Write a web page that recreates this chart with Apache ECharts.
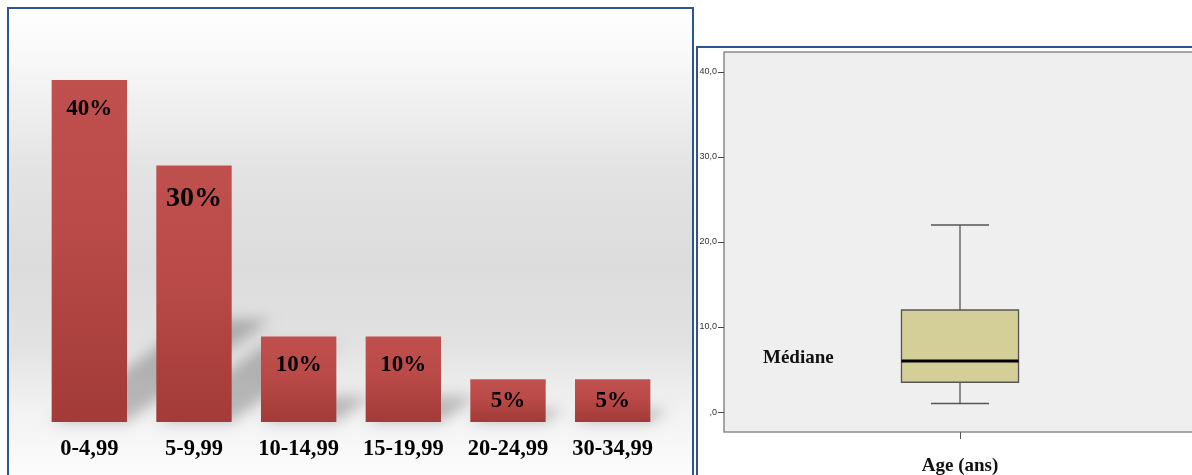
<!DOCTYPE html>
<html>
<head>
<meta charset="utf-8">
<script src="https://cdn.jsdelivr.net/npm/echarts@6/dist/echarts.min.js"></script>
<style>
  html, body { margin: 0; padding: 0; background: #ffffff; }
  #chart { width: 1192px; height: 475px; }
</style>
</head>
<body>
<div id="chart"></div>
<script>
// Age classes and share of patients (%)
const ageClasses = ['0-4,99', '5-9,99', '10-14,99', '15-19,99', '20-24,99', '30-34,99'];
const sharePct = [40, 30, 10, 10, 5, 5];

// Age distribution summary: min, Q1, median, Q3, max (years)
const ageBoxStats = [1, 3.5, 6, 12, 22];
const boxCategory = ['Age (ans)'];
const ageTickValues = [0, 10, 20, 30, 40];
const ageTickLabels = [',0', '10,0', '20,0', '30,0', '40,0'];

const SERIF = '"Liberation Serif", "Times New Roman", serif';
const SANS = '"Liberation Sans", Arial, sans-serif';
const BLUE = '#2f5496';
const BAR_FRAC = 0.72;

const chart = echarts.init(document.getElementById('chart'), null, { renderer: 'canvas' });

const barData = sharePct.map((v, i) => ({
  value: v,
  label: v === 30
    ? { fontSize: 28, distance: 19 }
    : (v <= 5 ? { distance: 10 } : { distance: v >= 40 ? 18 : 17 })
}));

chart.setOption({
  animation: false,
  graphic: [
    {
      type: 'rect', z: -10,
      shape: { x: 8, y: 8, width: 685, height: 520 },
      style: {
        stroke: BLUE, lineWidth: 2,
        fill: {
          type: 'linear', x: 0, y: 8, x2: 0, y2: 475, global: true,
          colorStops: [
            { offset: 0, color: '#ffffff' },
            { offset: 0.12, color: '#f7f7f7' },
            { offset: 0.35, color: '#e3e3e3' },
            { offset: 0.55, color: '#dcdcdc' },
            { offset: 0.72, color: '#e2e2e2' },
            { offset: 0.86, color: '#f2f2f2' },
            { offset: 1, color: '#fcfcfc' }
          ]
        }
      }
    },
    {
      type: 'rect', z: -10,
      shape: { x: 697, y: 47, width: 600, height: 520 },
      style: { stroke: BLUE, lineWidth: 2, fill: '#ffffff' }
    }
  ],
  grid: [
    { left: 37, top: 80, width: 628, bottom: 53, containLabel: false, outerBoundsMode: 'none' },
    {
      left: 724, top: 52, width: 472, bottom: 43, outerBoundsMode: 'none',
      show: true, backgroundColor: '#efefef', borderColor: '#8c8c8c', borderWidth: 1.5
    }
  ],
  xAxis: [
    {
      gridIndex: 0, type: 'category', data: ageClasses,
      axisLine: { show: false }, axisTick: { show: false },
      axisLabel: { interval: 0, color: '#000', fontFamily: SERIF, fontWeight: 'bold', fontSize: 22.5, margin: 16 }
    },
    {
      gridIndex: 1, type: 'category', data: boxCategory, position: 'bottom',
      axisLine: { show: false, onZero: false },
      axisTick: { show: true, alignWithLabel: true, length: 7, lineStyle: { color: '#555', width: 1 } },
      axisLabel: { interval: 0, color: '#111', fontFamily: SERIF, fontWeight: 'bold', fontSize: 19, margin: 25 }
    }
  ],
  yAxis: [
    { gridIndex: 0, type: 'value', min: 0, max: 40, show: false },
    {
      gridIndex: 1, type: 'value', min: -2.35, max: 42.35,
      axisLine: { show: false, onZero: false },
      splitLine: { show: false },
      axisTick: { show: true, customValues: ageTickValues, length: 6, lineStyle: { color: '#444', width: 1 } },
      axisLabel: {
        customValues: ageTickValues, margin: 7,
        color: '#333', fontFamily: SANS, fontSize: 9,
        formatter: v => ageTickLabels[ageTickValues.indexOf(v)] ?? ''
      }
    }
  ],
  series: [
    {
      // soft cast shadow behind each bar
      type: 'custom', xAxisIndex: 0, yAxisIndex: 0, z: 1, silent: true,
      data: sharePct.map((v, i) => [i, v]),
      renderItem(params, api) {
        const base = api.coord([api.value(0), 0]);
        const top = api.coord([api.value(0), api.value(1)]);
        const w = api.size([1, 0])[0] * BAR_FRAC;
        const h = base[1] - top[1];
        const x0 = base[0] - w / 2, x1 = base[0] + w / 2, y0 = base[1];
        const off = 3000;
        const dx = 0.42 * h, dy = 0.3 * h;
        return {
          type: 'polygon',
          shape: { points: [
            [x0 - off, y0], [x1 - off, y0],
            [x1 + dx - off, y0 - dy], [x0 + dx - off, y0 - dy]
          ] },
          style: { fill: '#000', shadowBlur: 14, shadowColor: 'rgba(0,0,0,0.24)', shadowOffsetX: off }
        };
      }
    },
    {
      type: 'bar', xAxisIndex: 0, yAxisIndex: 0, z: 2,
      data: barData,
      barCategoryGap: '28%',
      itemStyle: {
        color: {
          type: 'linear', x: 0, y: 0, x2: 0, y2: 1,
          colorStops: [
            { offset: 0, color: '#c0504d' },
            { offset: 0.45, color: '#b94a47' },
            { offset: 1, color: '#a23b39' }
          ]
        }
      },
      label: {
        show: true, position: 'insideTop', formatter: '{c}%',
        color: '#000', fontFamily: SERIF, fontWeight: 'bold', fontSize: 23
      }
    },
    {
      // box-and-whisker plot of age
      type: 'custom', xAxisIndex: 1, yAxisIndex: 1, z: 3,
      data: [[0, ...ageBoxStats]],
      encode: { x: 0, y: [1, 2, 3, 4, 5] },
      renderItem(params, api) {
        const cat = api.value(0);
        const cx = api.coord([cat, 0])[0];
        const band = api.size([1, 0])[0];
        const bw = band * 0.248, cw = band * 0.123;
        const y = k => api.coord([cat, api.value(k)])[1];
        const yMin = y(1), yQ1 = y(2), yMed = y(3), yQ3 = y(4), yMax = y(5);
        const stroke = { stroke: '#555', lineWidth: 1.3 };
        return {
          type: 'group',
          children: [
            { type: 'line', shape: { x1: cx, y1: yMax, x2: cx, y2: yQ3 }, style: stroke },
            { type: 'line', shape: { x1: cx, y1: yQ1, x2: cx, y2: yMin }, style: stroke },
            { type: 'line', shape: { x1: cx - cw / 2, y1: yMax, x2: cx + cw / 2, y2: yMax }, style: stroke },
            { type: 'line', shape: { x1: cx - cw / 2, y1: yMin, x2: cx + cw / 2, y2: yMin }, style: stroke },
            {
              type: 'rect',
              shape: { x: cx - bw / 2, y: yQ3, width: bw, height: yQ1 - yQ3 },
              style: { fill: '#d4cf99', stroke: '#555', lineWidth: 1.3 }
            },
            { type: 'line', shape: { x1: cx - bw / 2, y1: yMed, x2: cx + bw / 2, y2: yMed }, style: { stroke: '#000', lineWidth: 3 } },
            {
              type: 'text',
              style: {
                text: 'Médiane', x: params.coordSys.x + 39, y: yMed - 3,
                verticalAlign: 'middle', align: 'left',
                fill: '#111', font: 'bold 19px ' + SERIF
              }
            }
          ]
        };
      }
    }
  ]
});
</script>
</body>
</html>
